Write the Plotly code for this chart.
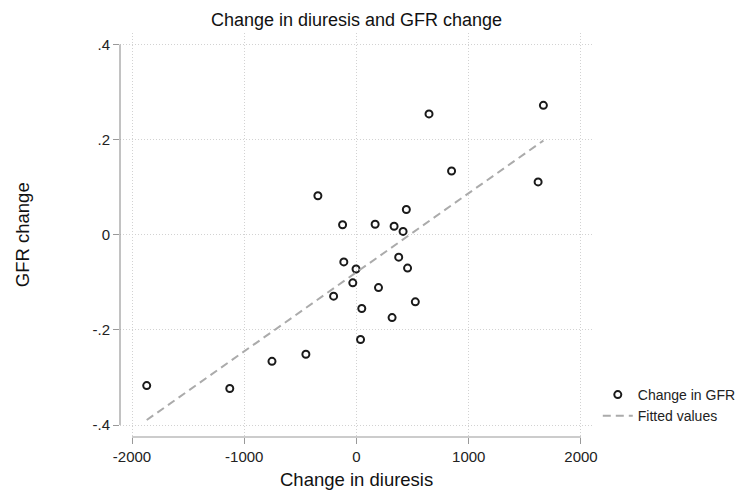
import numpy as np
import plotly.graph_objects as go

# Data
diuresis_change = [-1869, -1129, -753, -451, -344, -204, -124, -113, -33, -4,
                   36, 47, 166, 196, 317, 335, 376, 415, 444, 455,
                   524, 646, 847, 1618, 1665]
gfr_change = [-0.317, -0.323, -0.266, -0.251, 0.082, -0.129, 0.021, -0.057, -0.101, -0.072,
              -0.220, -0.155, 0.022, -0.111, -0.174, 0.018, -0.047, 0.007, 0.053, -0.070,
              -0.141, 0.254, 0.134, 0.111, 0.272]

x_ticks = [-2000, -1000, 0, 1000, 2000]
x_ticklabels = ["-2000", "-1000", "0", "1000", "2000"]
y_ticks = [-0.4, -0.2, 0, 0.2, 0.4]
y_ticklabels = ["-.4", "-.2", "0", ".2", ".4"]

# Linear fit (Stata "Fitted values")
xs = np.array(diuresis_change, dtype=float)
ys = np.array(gfr_change, dtype=float)
slope, intercept = np.polyfit(xs, ys, 1)
fit_x = [xs.min(), xs.max()]
fit_y = [intercept + slope * v for v in fit_x]

FONT = "Liberation Sans, Arial, sans-serif"

fig = go.Figure()
fig.add_trace(go.Scatter(
    x=diuresis_change, y=gfr_change, mode="markers", name="Change in GFR",
    marker=dict(symbol="circle-open", size=7, color="#1a1a1a", line=dict(width=2, color="#1a1a1a")),
))
fig.add_trace(go.Scatter(
    x=fit_x, y=fit_y, mode="lines", name="Fitted values",
    line=dict(color="#ababab", width=2, dash="8px,5px"),
))

axis_common = dict(
    showline=False, zeroline=False, showgrid=True,
    gridcolor="#d2d2d2", griddash="1px,2px", gridwidth=1,
    ticks="outside", ticklen=6, tickwidth=1, tickcolor="#999999",
    tickfont=dict(family=FONT, size=15, color="#222222"),
)

fig.update_layout(
    width=744, height=492,
    margin=dict(l=112, r=158, t=25, b=63),
    paper_bgcolor="white", plot_bgcolor="white",
    title=dict(text="Change in diuresis and GFR change", xref="paper", x=0.5, xanchor="center",
               yref="container", y=0.977, yanchor="middle",
               font=dict(family=FONT, size=18, color="#111111")),
    xaxis=dict(range=[-2107, 2107], tickvals=x_ticks, ticktext=x_ticklabels, **axis_common),
    yaxis=dict(range=[-0.425, 0.424], tickvals=y_ticks, ticktext=y_ticklabels, **axis_common),
    legend=dict(x=1.008, y=0.1436, xanchor="left", yanchor="top",
                font=dict(family=FONT, size=14, color="#222222"),
                bgcolor="rgba(0,0,0,0)", tracegroupgap=0, itemwidth=30),
    showlegend=True,
)

# Axis titles
fig.add_annotation(text="Change in diuresis", xref="paper", yref="paper", x=0.5, y=-0.1064,
                   xanchor="center", yanchor="middle", showarrow=False,
                   font=dict(family=FONT, size=18.5, color="#111111"))
fig.add_annotation(text="GFR change", xref="paper", yref="paper", x=-0.2068, y=0.5,
                   xanchor="center", yanchor="middle", textangle=-90, showarrow=False,
                   font=dict(family=FONT, size=18.5, color="#111111"))

# Axis lines spanning only the tick range (Stata style)
fig.add_shape(type="line", xref="paper", yref="y", x0=0, x1=0, y0=-0.4, y1=0.4,
              line=dict(color="#999999", width=1.2))
fig.add_shape(type="line", xref="x", yref="paper", x0=-2000, x1=2000, y0=0, y1=0,
              line=dict(color="#999999", width=1.2))

fig.write_html("out.html")
